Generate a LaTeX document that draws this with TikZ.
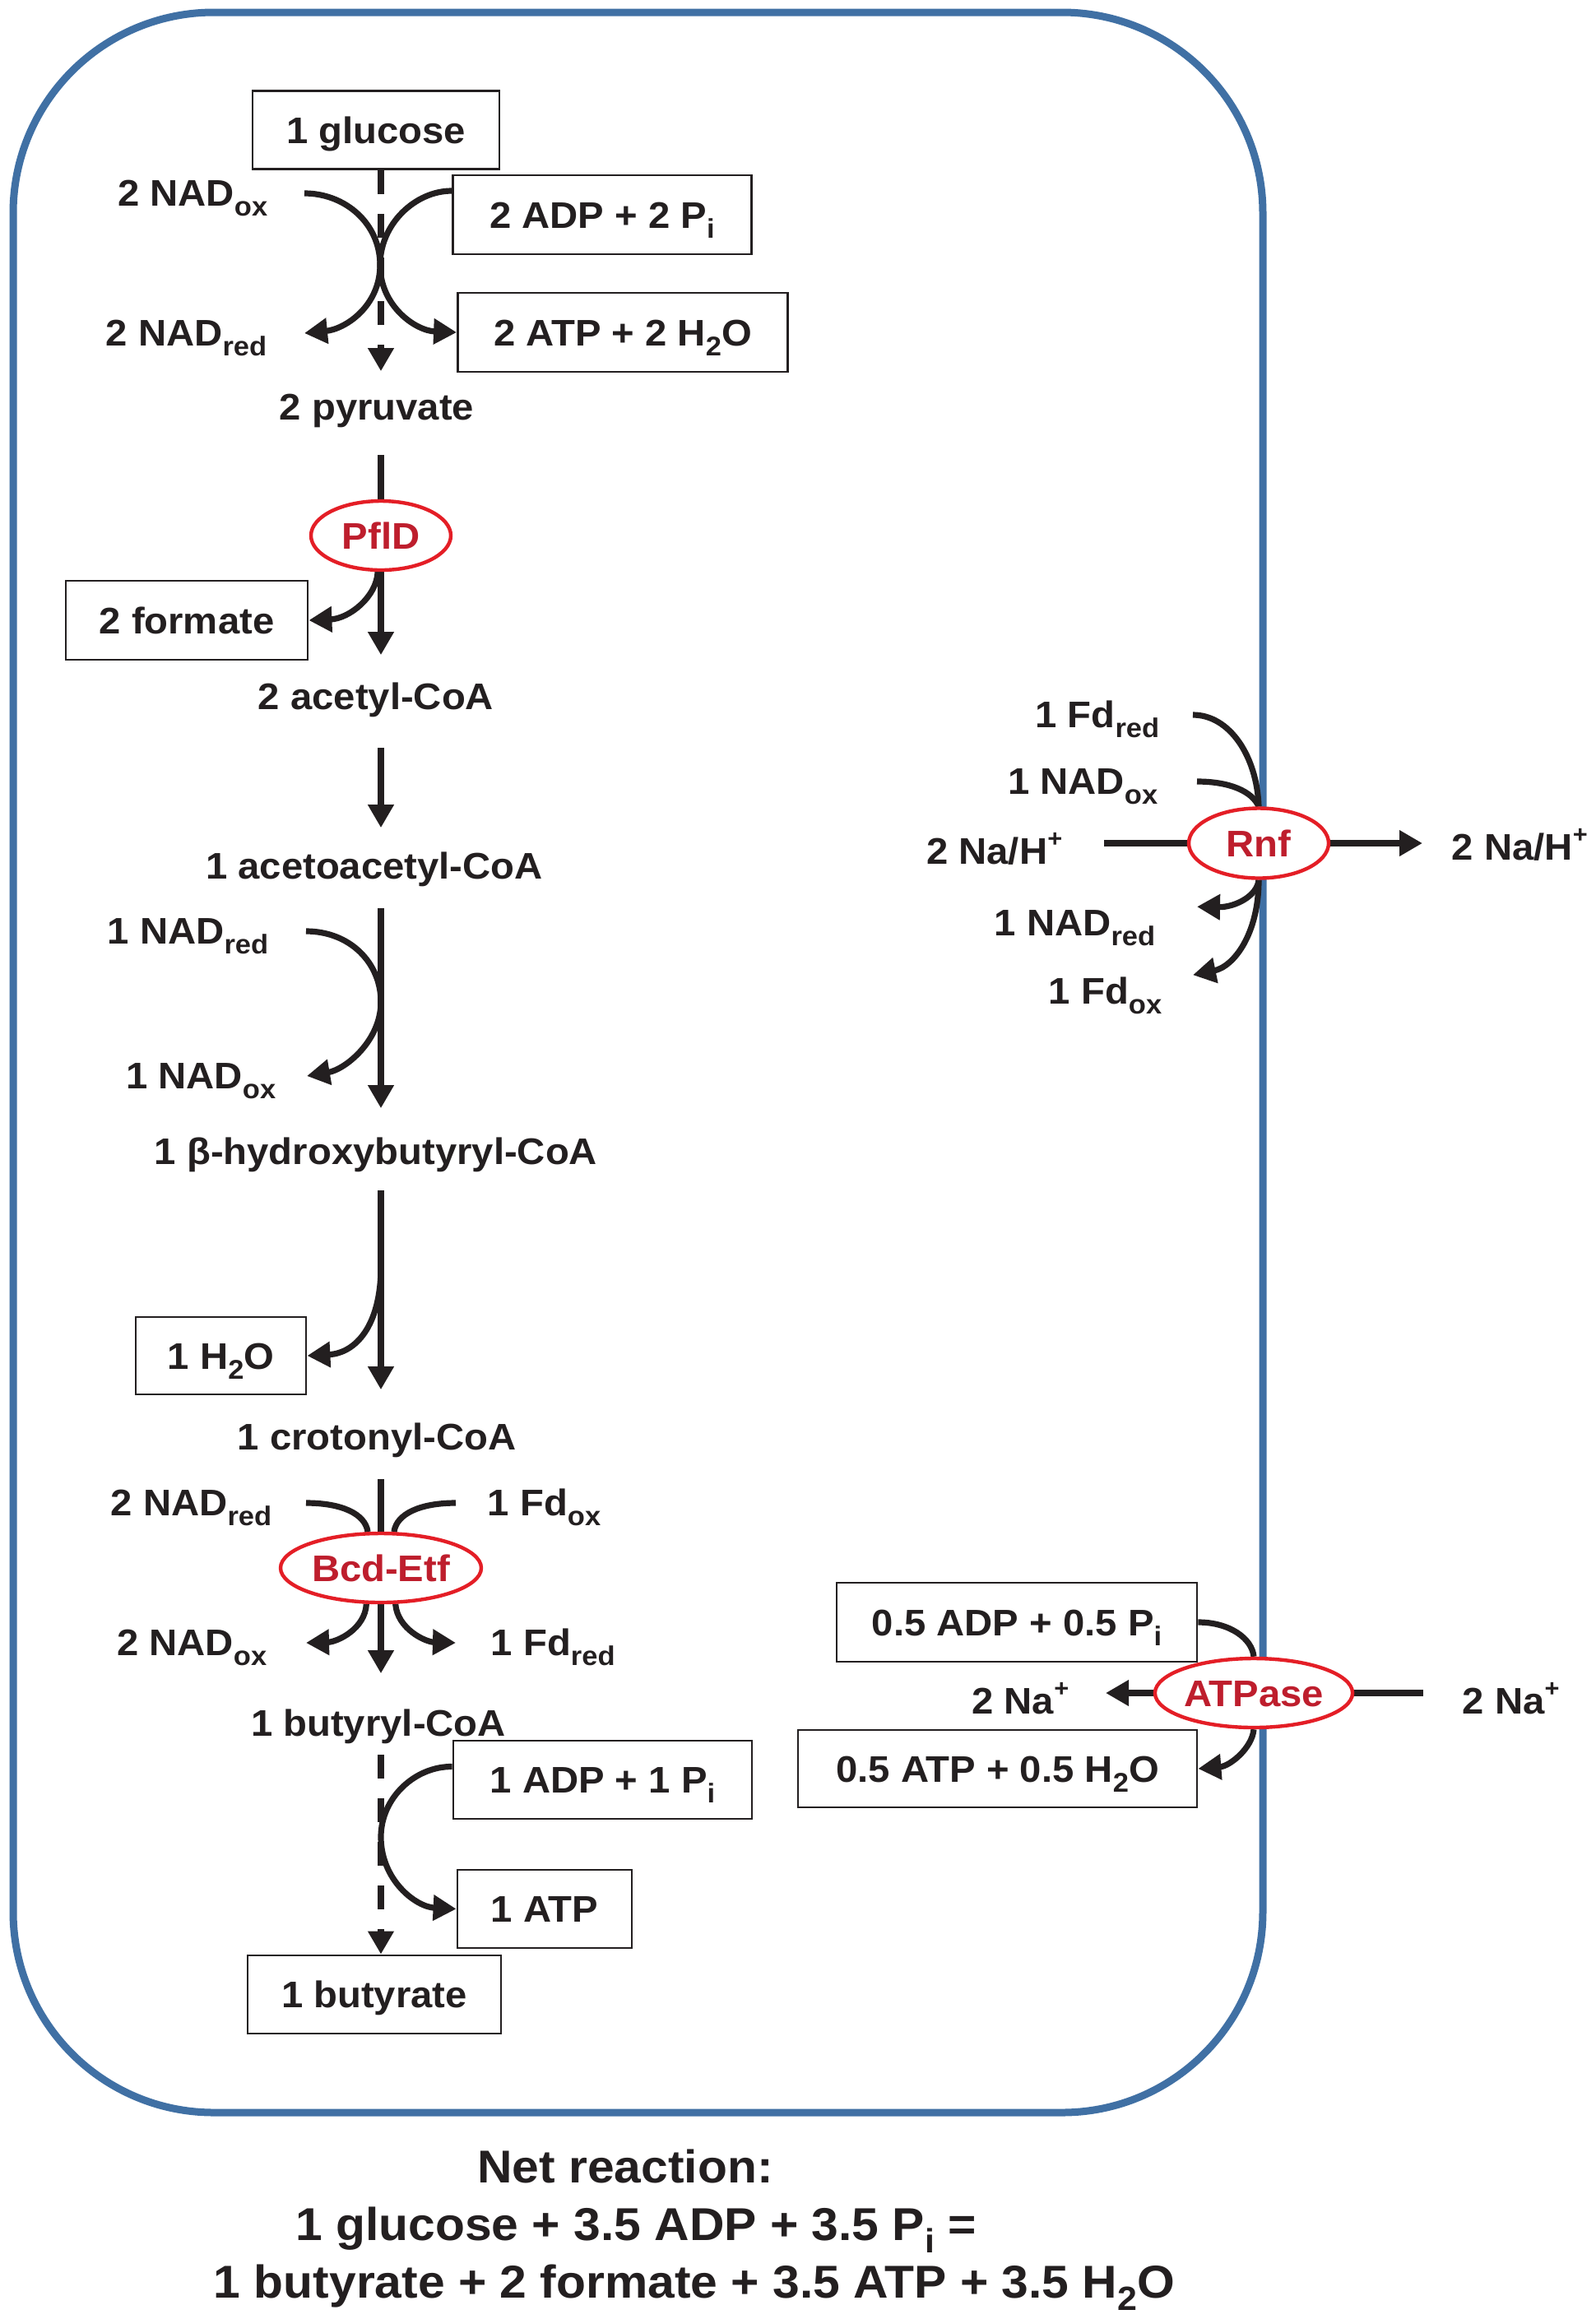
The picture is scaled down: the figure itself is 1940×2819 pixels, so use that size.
\documentclass[tikz,border=0pt]{standalone}
\usepackage{graphicx}
\usepackage{fontspec}
\setmainfont{Liberation Sans}[FakeStretch=1.05]
\usetikzlibrary{arrows.meta,backgrounds,shapes.geometric}
\definecolor{cellblue}{RGB}{64,112,164}
\definecolor{enzline}{RGB}{228,30,38}
\definecolor{enztext}{RGB}{190,30,45}
\definecolor{ink}{RGB}{35,31,32}
\newcommand{\sbs}[1]{\raisebox{-0.27em}{\scalebox{0.73}{#1}}}
\newcommand{\sps}[1]{\raisebox{0.45em}{\scalebox{0.65}{#1}}}
\begin{document}
\begin{tikzpicture}[x=0.25pt,y=-0.25pt,
  every node/.style={font=\fontsize{11.25}{13.5}\bfseries\selectfont, text=ink},
  box/.style={draw=ink, line width=0.7pt, fill=white, rectangle, inner sep=0pt, text height=8pt, text depth=0pt},
  lab/.style={inner ysep=0pt, text height=8.5pt, text depth=1pt},
  met/.style={anchor=base, inner sep=0pt, text height=8.5pt, text depth=2.25pt},
  enz/.style={ellipse, draw=enzline, line width=1.1pt, fill=white, text=enztext, inner sep=0pt, text height=8pt, text depth=0pt},
  conn/.style={draw=ink, line width=1.8pt},
  arr/.style={conn, -{Triangle[width=7.5pt,length=7pt]}},
  dashline/.style={dash pattern=on 7.25pt off 6pt},
  netfont/.style={font=\fontsize{14}{17}\bfseries\selectfont, anchor=base, inner sep=0pt}
]
\useasboundingbox (0,0) rectangle (1940,2819);
\coordinate (axis) at (463,0);

% ---------- glycolysis ----------
\node[box, minimum width=75pt, minimum height=23.75pt] (glc) at (457,158) {1 glucose};
\node[box, minimum width=90.75pt, minimum height=24pt] (adp1) at (732,261) {2 ADP + 2 P\sbs{i}};
\node[box, minimum width=100.25pt, minimum height=24pt] (atp1) at (757,404) {2 ATP + 2 H\sbs{2}O};
\node[lab, anchor=base east, inner xsep=11pt] (nadox1) at (370,250) {2 NAD\sbs{ox}};
\node[lab, anchor=base east, inner xsep=11.25pt] (nadred1) at (370,420) {2 NAD\sbs{red}};
\node[met] (pyr) at (458,510) {2 pyruvate};

% ---------- PflD ----------
\node[enz, minimum width=42.5pt, minimum height=21pt] (pfld) at (463,651) {PflD};
\node[box, minimum width=73.5pt, minimum height=24pt] (formate) at (227,754) {2 formate};
\node[met] (acetyl) at (457,862) {2 acetyl-CoA};
\node[met] (acac) at (455,1068) {1 acetoacetyl-CoA};
\node[lab, anchor=base east, inner xsep=11.25pt] (nadred2) at (372,1147) {1 NAD\sbs{red}};
\node[lab, anchor=base east, inner xsep=9.25pt] (nadox2) at (373,1323) {1 NAD\sbs{ox}};
\node[met] (bhb) at (457,1415) {1 β-hydroxybutyryl-CoA};
\node[box, minimum width=51.75pt, minimum height=23.5pt] (h2o) at (268.5,1648) {1 H\sbs{2}O};
\node[met] (crot) at (458,1762) {1 crotonyl-CoA};

% ---------- Bcd-Etf ----------
\node[enz, minimum width=61pt, minimum height=21pt] (bcd) at (463,1906) {Bcd-Etf};
\node[lab, anchor=base east, inner xsep=10.25pt] (nadred3) at (372,1842) {2 NAD\sbs{red}};
\node[lab, anchor=base west, inner xsep=9.5pt] (fdox2) at (554,1842) {1 Fd\sbs{ox}};
\node[lab, anchor=base east, inner xsep=11.75pt] (nadox3) at (372,2012) {2 NAD\sbs{ox}};
\node[lab, anchor=base west, inner xsep=10.5pt] (fdred2) at (554,2012) {1 Fd\sbs{red}};
\node[met] (buty) at (460,2110) {1 butyryl-CoA};
\node[box, minimum width=90.75pt, minimum height=23.75pt] (adp2) at (732.5,2163.5) {1 ADP + 1 P\sbs{i}};
\node[box, minimum width=53pt, minimum height=23.75pt] (atp2) at (662,2320.5) {1 ATP};
\node[box, minimum width=77pt, minimum height=23.75pt] (butyrate) at (455,2424.5) {1 butyrate};

% ---------- Rnf ----------
\node[enz, minimum width=42.5pt, minimum height=21.25pt] (rnf) at (1530,1025) {Rnf};
\node[lab, anchor=base east, inner xsep=10pt] (fdred3) at (1450,884) {1 Fd\sbs{red}};
\node[lab, anchor=base east, inner xsep=11.75pt] (nadox4) at (1455,965) {1 NAD\sbs{ox}};
\node[lab, anchor=base east, inner xsep=12.5pt] (naL) at (1342,1050) {2 Na/H\sps{+}};
\node[lab, anchor=base west, inner xsep=8.75pt] (naR) at (1729,1045) {2 Na/H\sps{+}};
\node[lab, anchor=base east, inner xsep=12.5pt] (nadred4) at (1455,1137) {1 NAD\sbs{red}};
\node[lab, anchor=base east, inner xsep=9.25pt] (fdox3) at (1450,1220) {1 Fd\sbs{ox}};

% ---------- ATPase ----------
\node[enz, minimum width=60pt, minimum height=21pt] (atpase) at (1524,2058) {ATPase};
\node[box, minimum width=109.5pt, minimum height=24pt] (adp3) at (1236,1972) {0.5 ADP + 0.5 P\sbs{i}};
\node[box, minimum width=121.25pt, minimum height=23.5pt] (atp3) at (1212.5,2150) {0.5 ATP + 0.5 H\sbs{2}O};
\node[lab, anchor=base east, inner xsep=11pt] (naL2) at (1344,2083) {2 Na\sps{+}};
\node[lab, anchor=base west, inner xsep=11.75pt] (naR2) at (1730,2083) {2 Na\sps{+}};

% ---------- net reaction ----------
\node[netfont] (net1) at (760,2653) {Net reaction:};
\node[netfont] (net2) at (773,2723) {1 glucose + 3.5 ADP + 3.5 P\sbs{i} =};
\node[netfont] (net3) at (844,2793) {1 butyrate + 2 formate + 3.5 ATP + 3.5 H\sbs{2}O};

\begin{pgfonlayer}{background}
  \draw[cellblue, line width=2.25pt, rounded corners=61pt] (16,15) rectangle (1535,2568);

  % glycolysis
  \draw[arr, dashline, shorten >=6pt] (glc.south -| axis) -- (pyr.north -| axis);
  \draw[arr] (nadox1.east) .. controls (420,235) and (462,272) .. (462,322)
             .. controls (462,372) and (420,400) .. (nadred1.east);
  \draw[arr] ([yshift=7.25pt]adp1.west) .. controls (505,232) and (462,272) .. (462,322)
             .. controls (462,372) and (505,402) .. (atp1.west);

  % PflD
  \draw[arr, shorten <=8.25pt, shorten >=7.75pt] (pyr.south -| axis) -- (acetyl.north -| axis);
  \draw[arr] (pfld.-95) .. controls (458,725) and (425,752) .. (formate.east);

  \draw[arr, shorten <=9.25pt, shorten >=6.75pt] (acetyl.south -| axis) -- (acac.north -| axis);

  \draw[arr, shorten <=6.5pt, shorten >=8.25pt] (acac.south -| axis) -- (bhb.north -| axis);
  \draw[arr] (nadred2.east) .. controls (425,1132) and (463,1170) .. (463,1218)
             .. controls (463,1265) and (420,1300) .. (nadox2.east);

  \draw[arr, shorten <=5.5pt, shorten >=9.5pt] (bhb.south -| axis) -- (crot.north -| axis);
  \coordinate (brH) at (463,1540);
  \draw[arr] (brH) .. controls (463,1612) and (432,1645) .. (h2o.east);

  % Bcd-Etf
  \draw[arr, shorten <=6.5pt, shorten >=10.25pt] (crot.south -| axis) -- (buty.north -| axis);
  \draw[conn] (nadred3.east) .. controls (415,1827) and (444,1840) .. (bcd.110);
  \draw[conn] (fdox2.west) .. controls (511,1827) and (482,1840) .. (bcd.70);
  \draw[arr] (bcd.-112) .. controls (444,1980) and (410,1996) .. (nadox3.east);
  \draw[arr] (bcd.-68) .. controls (483,1980) and (517,1996) .. (fdred2.west);

  % butyrate
  \draw[arr, dashline, shorten <=3.25pt] (buty.south -| axis) -- (butyrate.north -| axis);
  \draw[arr] ([yshift=4pt]adp2.west) .. controls (505,2147) and (463,2185) .. (463,2233)
             .. controls (463,2285) and (505,2318) .. (atp2.west);

  % Rnf
  \draw[conn] (fdred3.east) .. controls (1495,869) and (1528,920) .. (rnf.north);
  \draw[conn] (nadox4.east) .. controls (1495,950) and (1522,962) .. (rnf.north);
  \draw[arr] (rnf.south) .. controls (1528,1090) and (1500,1103) .. (nadred4.north east);
  \draw[arr] (rnf.south) .. controls (1530,1135) and (1500,1175) .. (fdox3.north east);
  \draw[conn] (naL.east |- rnf.west) -- (rnf.west);
  \draw[arr] (rnf.east) -- (rnf.east -| naR.west);

  % ATPase
  \draw[conn] (adp3.east) .. controls (1495,1972) and (1522,1992) .. (atpase.north);
  \draw[arr] (atpase.south) .. controls (1522,2125) and (1495,2147) .. (atp3.east);
  \draw[arr] (atpase.west) -- (atpase.west -| naL2.east);
  \draw[conn] (atpase.east) -- (atpase.east -| naR2.west);
\end{pgfonlayer}
\end{tikzpicture}
\end{document}
